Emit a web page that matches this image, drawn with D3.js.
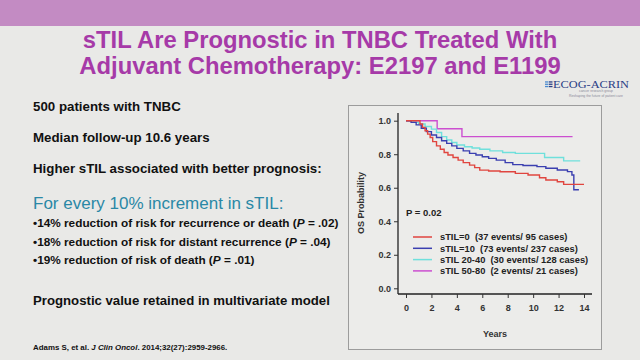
<!DOCTYPE html>
<html><head><meta charset="utf-8">
<script src="https://cdn.jsdelivr.net/npm/d3@7"></script>
<style>
html,body{margin:0;padding:0;background:#e9e9e7;}
svg{display:block;font-family:"Liberation Sans",Arial,sans-serif;}
</style></head>
<body><svg id="c" width="640" height="360"></svg>
<script>
// ---- data ----
const seriesNames = ["sTIL=0  (37 events/ 95 cases)", "sTIL=10  (73 events/ 237 cases)", "sTIL 20-40  (30 events/ 128 cases)", "sTIL 50-80  (2 events/ 21 cases)"];
const seriesColors = ["#e0453f", "#3b3fb0", "#6fe0dc", "#cc4fd0"];
const timesRed  = [0, 1.1, 1.3, 1.5, 1.7, 1.9, 2.1, 2.4, 2.7, 3.0, 3.3, 3.7, 4.1, 4.5, 5.0, 5.4, 5.8, 6.5, 7.4, 8.6, 9.6, 10.5, 11.0, 11.9, 12.4, 14.0];
const survRed   = [1.0, 0.98, 0.96, 0.94, 0.92, 0.9, 0.875, 0.85, 0.83, 0.81, 0.795, 0.78, 0.765, 0.75, 0.735, 0.72, 0.705, 0.70, 0.695, 0.686, 0.676, 0.66, 0.646, 0.636, 0.62, 0.62];
const timesBlue = [0, 0.4, 0.8, 1.2, 1.6, 2.0, 2.4, 2.8, 3.2, 3.6, 4.0, 4.5, 5.0, 5.5, 6.0, 6.5, 7.1, 7.8, 8.4, 9.2, 10.3, 11.0, 11.9, 12.7, 13.05, 13.2, 13.6];
const survBlue  = [1.0, 0.99, 0.975, 0.955, 0.935, 0.915, 0.9, 0.88, 0.865, 0.85, 0.835, 0.82, 0.805, 0.795, 0.785, 0.775, 0.765, 0.75, 0.738, 0.733, 0.726, 0.716, 0.706, 0.696, 0.676, 0.588, 0.588];
const timesCyan = [0, 0.6, 1.0, 1.5, 2.0, 2.4, 2.8, 3.2, 3.6, 4.0, 4.6, 5.2, 5.8, 6.6, 7.6, 8.6, 10.9, 12.4, 13.7];
const survCyan  = [1.0, 0.99, 0.98, 0.965, 0.95, 0.93, 0.905, 0.885, 0.87, 0.855, 0.845, 0.837, 0.83, 0.82, 0.81, 0.805, 0.78, 0.76, 0.76];
const timesMag  = [0, 2.45, 4.4, 13.1];
const survMag   = [1.0, 0.952, 0.905, 0.905];
const xTicks = [0, 2, 4, 6, 8, 10, 12, 14];
const yTicks = [0.0, 0.2, 0.4, 0.6, 0.8, 1.0];

const allTimes = [timesRed, timesBlue, timesCyan, timesMag];
const allSurv = [survRed, survBlue, survCyan, survMag];

const svg = d3.select("#c");
// top band
svg.append("rect").attr("x",0).attr("y",0).attr("width",640).attr("height",26).attr("fill","#c38bc3");
// title
const titleColor = "#a63aa8";
[["sTIL Are Prognostic in TNBC Treated With",48],["Adjuvant Chemotherapy: E2197 and E1199",73.5]].forEach(([t,y])=>{
  svg.append("text").attr("x",320).attr("y",y).attr("text-anchor","middle")
    .attr("font-size",23.8).attr("font-weight","bold").attr("fill",titleColor).text(t);
});
// logo
const logo = svg.append("g");
logo.append("text").attr("x",553).attr("y",87.5).attr("font-family","'Liberation Serif',serif")
  .attr("font-size",10.5).attr("textLength",76).attr("lengthAdjust","spacingAndGlyphs").attr("fill","#2b3f86").text("ECOG-ACRIN");
[0,1,2].forEach(i=>{
  logo.append("rect").attr("x",545).attr("y",81.3+i*2.3).attr("width",3.5).attr("height",1.3).attr("fill","#4a8ad0");
  logo.append("rect").attr("x",549).attr("y",81.3+i*2.3).attr("width",3.5).attr("height",1.3).attr("fill","#2b3f86");
});
logo.append("text").attr("x",596).attr("y",92).attr("text-anchor","middle").attr("font-size",3.4).attr("fill","#8a8a9a").text("cancer research group");
logo.append("text").attr("x",596).attr("y",96.5).attr("text-anchor","middle").attr("font-size",3.4).attr("fill","#8a8a9a").text("Reshaping the future of patient care");

// left text
function tx(x,y,size,weight,color,parts){
  const t = svg.append("text").attr("x",x).attr("y",y).attr("font-size",size).attr("font-weight",weight).attr("fill",color);
  parts.forEach(p=>{ const s=t.append("tspan").text(p[0]); if(p[1]) s.attr("font-style","italic"); });
  return t;
}
tx(33,110.5,13.3,"bold","#111",[["500 patients with TNBC"]]);
tx(33,141.5,13.3,"bold","#111",[["Median follow-up 10.6 years"]]);
tx(33,173,13.3,"bold","#111",[["Higher sTIL associated with better prognosis:"]]);
tx(33,209,17,"normal","#2a88a6",[["For every 10% increment in sTIL:"]]);
tx(33,226.5,11.8,"bold","#111",[["•14% reduction of risk for recurrence or death ("],["P",1],[" = .02)"]]);
tx(33,245.5,11.8,"bold","#111",[["•18% reduction of risk for distant recurrence ("],["P",1],[" = .04)"]]);
tx(33,264,11.8,"bold","#111",[["•19% reduction of risk of death ("],["P",1],[" = .01)"]]);
tx(33,305,13.2,"bold","#111",[["Prognostic value retained in multivariate model"]]);
tx(33,350,7.9,"bold","#111",[["Adams S, et al. "],["J Clin Oncol",1],[". 2014;32(27):2959-2966."]]);

// chart box
svg.append("rect").attr("x",348.5).attr("y",105.5).attr("width",253).attr("height",244).attr("fill","#ececea").attr("stroke","#9c9c9c").attr("stroke-width",1);

const x = d3.scaleLinear().domain([0,14]).range([406,584]);
const y = d3.scaleLinear().domain([0,1]).range([288.3,120.7]);

// axes
const gy = svg.append("g").attr("transform","translate(398,0)")
  .call(d3.axisLeft(y).tickValues(yTicks).tickFormat(d3.format(".1f")).tickSize(4).tickPadding(3));
gy.select(".domain").attr("d","M0,113V294");
const gx = svg.append("g").attr("transform","translate(0,294)")
  .call(d3.axisBottom(x).tickValues(xTicks).tickFormat(d3.format("d")).tickSize(4).tickPadding(7));
gx.select(".domain").attr("d","M398,0H592");
[gx,gy].forEach(g=>{
  g.selectAll(".domain").attr("stroke","#222").attr("stroke-width",1.3);
  g.selectAll(".tick line").attr("stroke","#333");
  g.selectAll("text").attr("font-size",9).attr("font-weight","bold").attr("fill","#333").attr("font-family","'Liberation Sans',Arial,sans-serif");
});
svg.append("text").attr("x",495).attr("y",337).attr("text-anchor","middle").attr("font-size",9).attr("font-weight","bold").attr("fill","#333").text("Years");
svg.append("text").attr("transform","translate(364,203) rotate(-90)").attr("text-anchor","middle").attr("font-size",9).attr("font-weight","bold").attr("fill","#333").text("OS Probability");

// curves
const line = d3.line().x(d=>x(d[0])).y(d=>y(d[1])).curve(d3.curveStepAfter);
[3,2,1,0].forEach(i=>{
  const pts = allTimes[i].map((t,j)=>[t, allSurv[i][j]]);
  svg.append("path").attr("d",line(pts)).attr("fill","none").attr("stroke",seriesColors[i]).attr("stroke-width",1.4);
});

svg.append("text").attr("x",406).attr("y",216).attr("font-size",9.5).attr("font-weight","bold").attr("fill","#222").text("P = 0.02");
seriesNames.forEach((n,i)=>{
  const yy = 237 + i*11.3;
  svg.append("line").attr("x1",413).attr("x2",432).attr("y1",yy).attr("y2",yy).attr("stroke",seriesColors[i]).attr("stroke-width",1.5);
  svg.append("text").attr("x",440).attr("y",yy+3.3).attr("font-size",9.3).attr("font-weight","bold").attr("fill","#222")
    .style("white-space","pre").text(n);
});
</script></body></html>
